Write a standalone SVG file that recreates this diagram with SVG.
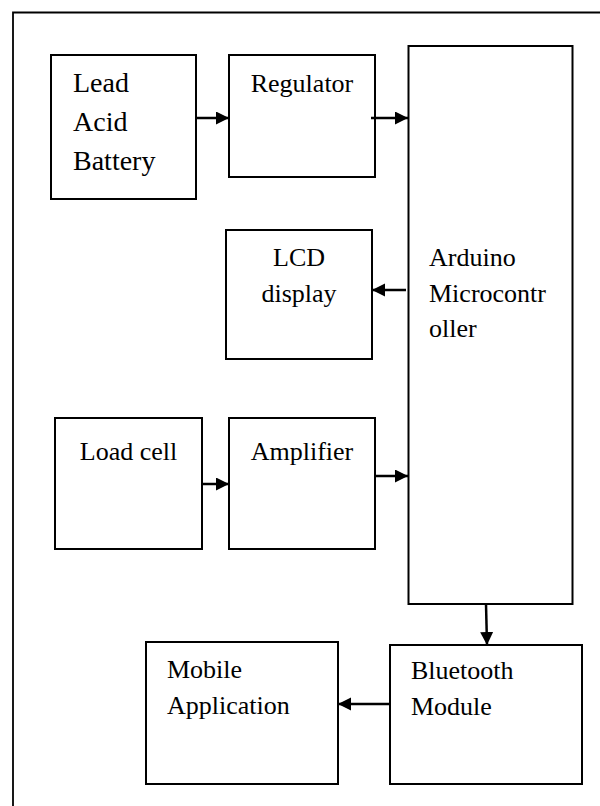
<svg xmlns="http://www.w3.org/2000/svg" width="600" height="806" viewBox="0 0 600 806">
<defs>
<marker id="ah" markerUnits="userSpaceOnUse" markerWidth="14" markerHeight="14" refX="13" refY="6.5" orient="auto">
<path d="M0,0 L13,6.5 L0,13 Z" fill="#000"/>
</marker>
<style>
.box{fill:#fff;stroke:#000;stroke-width:2}
.t{font-family:"Liberation Serif","Times New Roman",serif;font-size:26px;fill:#000}
.big{font-size:28px}
.c{text-anchor:middle}
.conn{stroke:#000;stroke-width:2.5;fill:none;marker-end:url(#ah)}
</style>
</defs>
<rect x="0" y="0" width="600" height="806" fill="#fff"/>
<path d="M13,806 V12.5 H601" fill="none" stroke="#000" stroke-width="1.8"/>
<g id="battery">
<rect class="box" x="51" y="55" width="145" height="144"/>
<text class="t big" x="73" y="92">Lead</text>
<text class="t big" x="73" y="131">Acid</text>
<text class="t big" x="73" y="170">Battery</text>
</g>
<g id="regulator">
<rect class="box" x="229" y="55" width="146" height="122"/>
<text class="t c" x="302" y="92">Regulator</text>
</g>
<g id="arduino">
<rect class="box" x="408.5" y="46" width="164" height="558"/>
<text class="t" x="429" y="266">Arduino</text>
<text class="t" x="429" y="302">Microcontr</text>
<text class="t" x="429" y="337">oller</text>
</g>
<g id="lcd">
<rect class="box" x="226" y="230" width="146" height="129"/>
<text class="t c" x="299" y="266">LCD</text>
<text class="t c" x="299" y="302">display</text>
</g>
<g id="loadcell">
<rect class="box" x="55" y="418" width="147" height="131"/>
<text class="t c" x="128.5" y="460">Load cell</text>
</g>
<g id="amplifier">
<rect class="box" x="229" y="418" width="146" height="131"/>
<text class="t c" x="302" y="460">Amplifier</text>
</g>
<g id="bluetooth">
<rect class="box" x="390" y="645" width="192" height="139"/>
<text class="t" x="411" y="679">Bluetooth</text>
<text class="t" x="411" y="715">Module</text>
</g>
<g id="mobile">
<rect class="box" x="146" y="642" width="192" height="142"/>
<text class="t" x="167" y="678">Mobile</text>
<text class="t" x="167" y="714">Application</text>
</g>
<g id="connectors">
<line class="conn" x1="196" y1="118" x2="229" y2="118"/>
<line class="conn" x1="371" y1="118" x2="408" y2="118"/>
<line class="conn" x1="406" y1="290" x2="372" y2="290"/>
<line class="conn" x1="202" y1="484" x2="229" y2="484"/>
<line class="conn" x1="375" y1="476" x2="408" y2="476"/>
<line class="conn" x1="486" y1="604" x2="487" y2="645"/>
<line class="conn" x1="390" y1="704" x2="338" y2="704"/>
</g>
</svg>
